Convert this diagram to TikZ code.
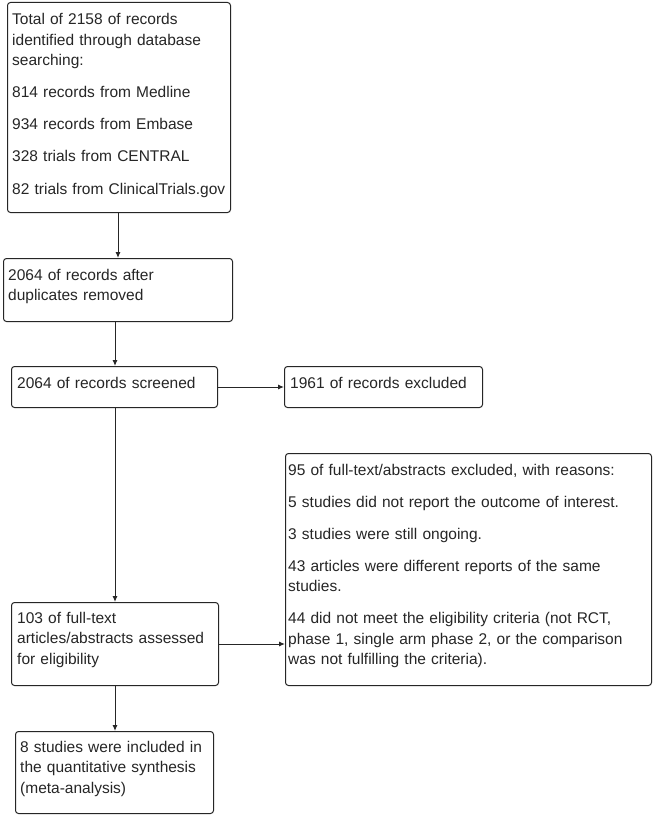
\documentclass[tikz,border=0pt]{standalone}
\usepackage{fontspec}
\setmainfont{Liberation Sans}
\usetikzlibrary{arrows.meta}
\begin{document}
\begin{tikzpicture}[x=1pt,y=-1pt,
  boxnode/.style={draw=black!85, line width=1pt, rounded corners=3pt, inner sep=0pt, anchor=north west},
  txt/.style={anchor=base west, inner sep=0pt, text width=380pt, align=left, text=black!85,
    font=\fontsize{15.5}{20.5}\selectfont},
  conn/.style={draw=black!85, line width=1pt, -{Latex[length=6pt,width=5pt]}}]
\useasboundingbox (0,0) rectangle (654,816);
\fill[white] (0,0) rectangle (654,816);
% boxes
\node[boxnode, minimum width=223pt, minimum height=210pt] (b1) at (7,2) {};
\node[boxnode, minimum width=229pt, minimum height=63pt] (b2) at (3,258) {};
\node[boxnode, minimum width=206pt, minimum height=41pt] (b3) at (11,366) {};
\node[boxnode, minimum width=198pt, minimum height=41pt] (b4) at (284,366) {};
\node[boxnode, minimum width=366pt, minimum height=232pt] (b6) at (285,453) {};
\node[boxnode, minimum width=207pt, minimum height=83pt] (b5) at (11,602) {};
\node[boxnode, minimum width=198pt, minimum height=82pt] (b7) at (15,731) {};
% texts
\node[txt] (t1) at (12,25) {Total of 2158 of records\\identified through database\\searching:\\[11.5pt]
814 records from Medline\\[11.5pt]934 records from Embase\\[11.5pt]328 trials from CENTRAL\\[11.5pt]82 trials from ClinicalTrials.gov};
\node[txt] (t2) at (8,280) {2064 of records after\\duplicates removed};
\node[txt] (t3) at (17,388) {2064 of records screened};
\node[txt] (t4) at (290,388) {1961 of records excluded};
\node[txt] (t6) at (288,475) {95 of full-text/abstracts excluded, with reasons:\\[11.5pt]
5 studies did not report the outcome of interest.\\[11.5pt]
3 studies were still ongoing.\\[11.5pt]
43 articles were different reports of the same\\studies.\\[11.5pt]
44 did not meet the eligibility criteria (not RCT,\\phase 1, single arm phase 2, or the comparison\\was not fulfilling the criteria).};
\node[txt] (t5) at (17,623) {103 of full-text\\articles/abstracts assessed\\for eligibility};
\node[txt] (t7) at (20,752) {8 studies were included in\\the quantitative synthesis\\(meta-analysis)};
% connectors
\draw[conn] (b1.south -| 118,0) -- (b2.north -| 118,0);
\draw[conn] (b2.south -| 115,0) -- (b3.north -| 115,0);
\draw[conn] (b3.east) -- (b4.west);
\draw[conn] (b3.south -| 115,0) -- (b5.north -| 115,0);
\draw[conn] (b5.east) -- (b6.west |- b5.east);
\draw[conn] (b5.south -| 115,0) -- (b7.north -| 115,0);
\end{tikzpicture}
\end{document}
